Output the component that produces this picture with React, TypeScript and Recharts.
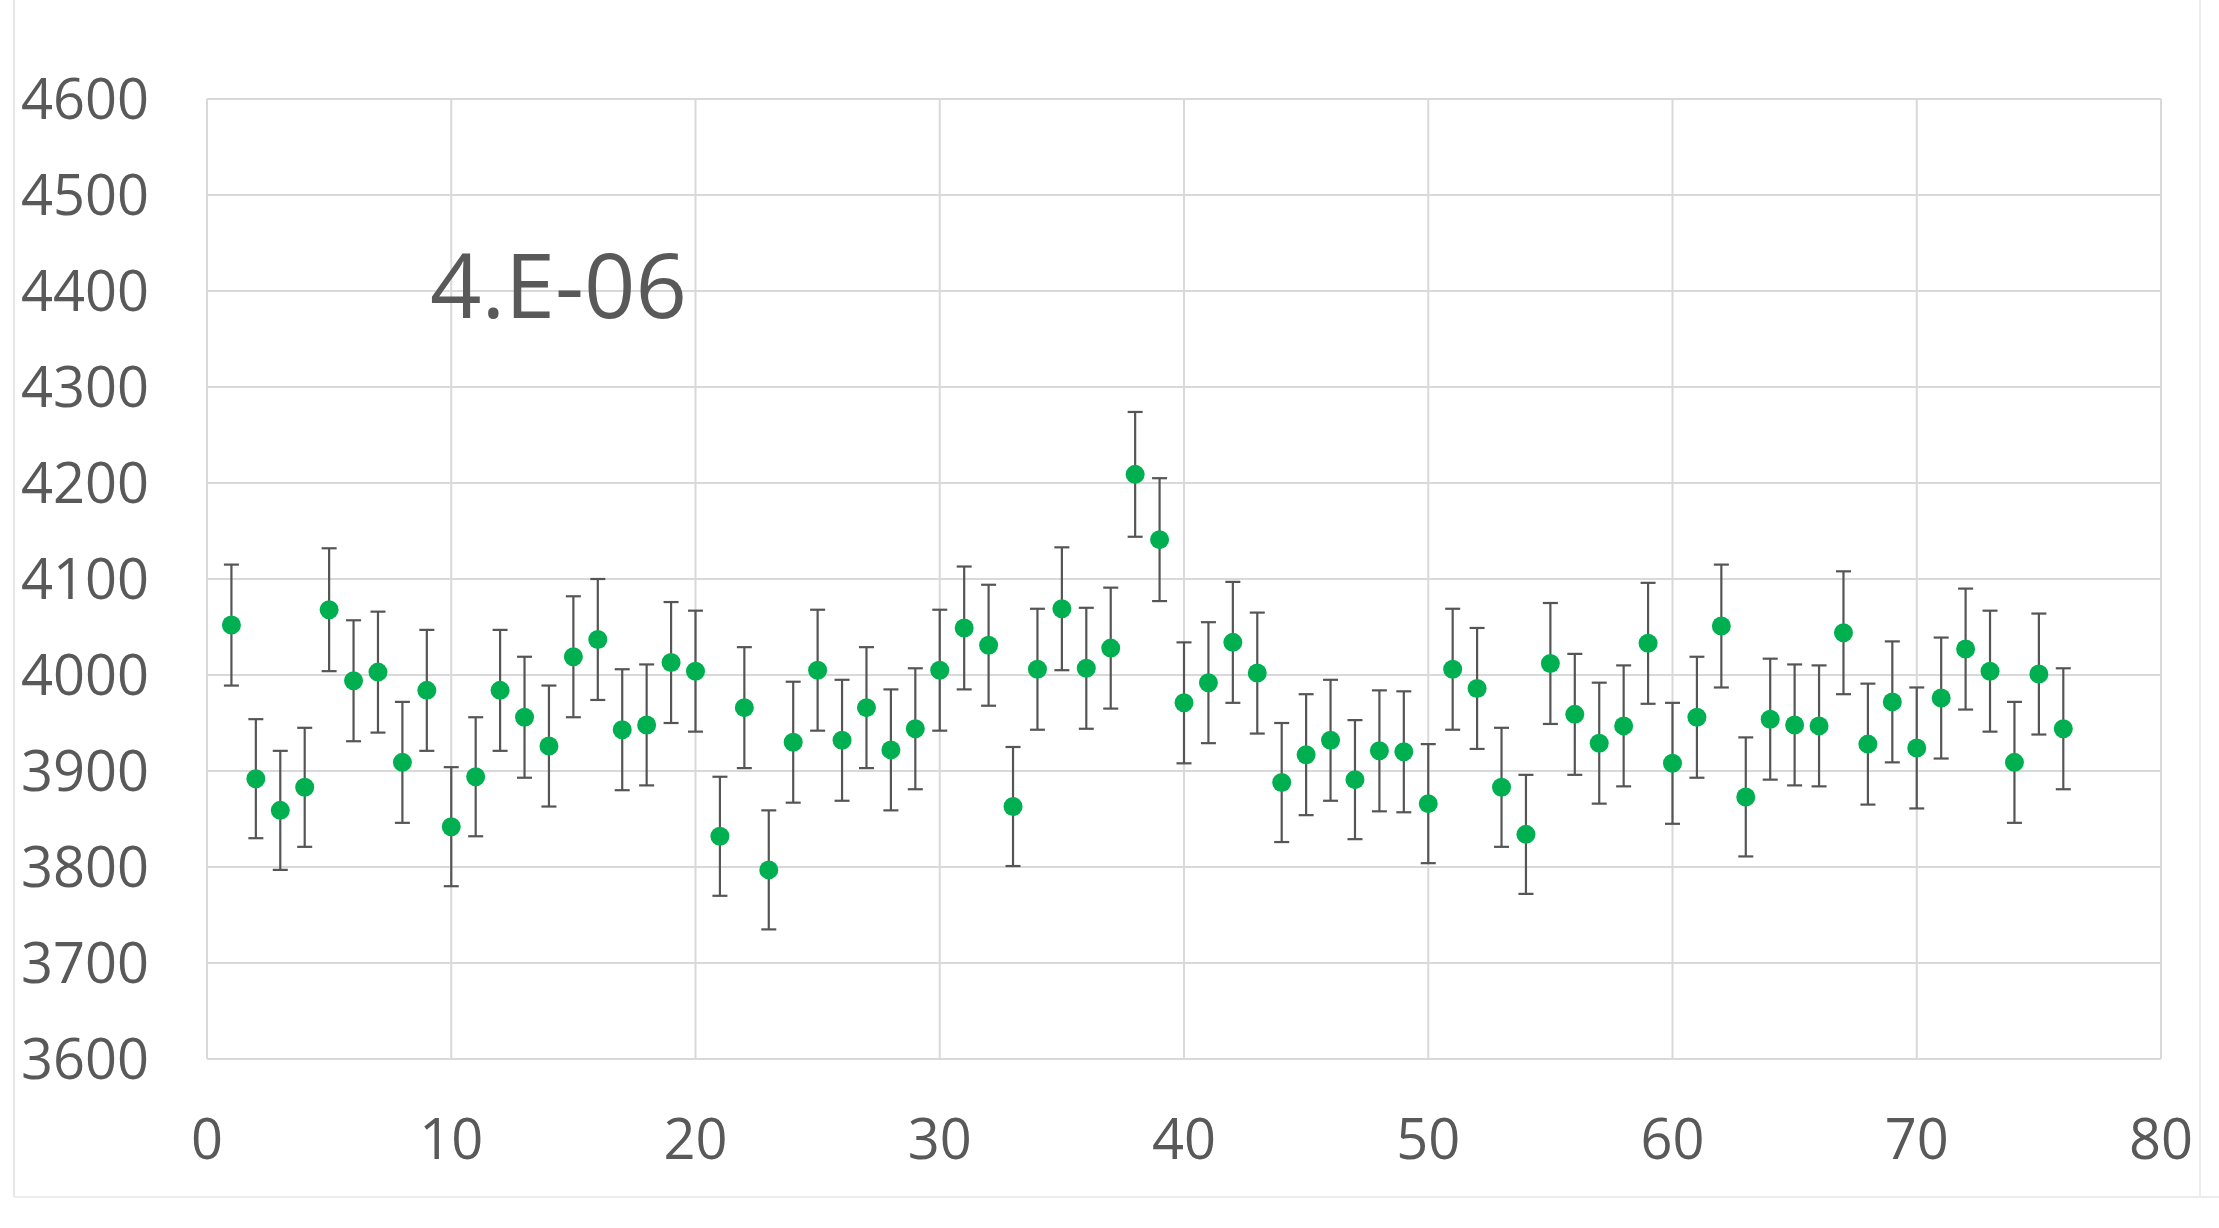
import { CartesianGrid, ErrorBar, Scatter, ScatterChart, XAxis, YAxis } from 'recharts'

// counts per run, with their symmetric error bars
const runCounts = [
  4052, 3892, 3859, 3883, 4068, 3994, 4003, 3909, 3984, 3842,
  3894, 3984, 3956, 3926, 4019, 4037, 3943, 3948, 4013, 4004,
  3832, 3966, 3797, 3930, 4005, 3932, 3966, 3922, 3944, 4005,
  4049, 4031, 3863, 4006, 4069, 4007, 4028, 4209, 4141, 3971,
  3992, 4034, 4002, 3888, 3917, 3932, 3891, 3921, 3920, 3866,
  4006, 3986, 3883, 3834, 4012, 3959, 3929, 3947, 4033, 3908,
  3956, 4051, 3873, 3954, 3948, 3947, 4044, 3928, 3972, 3924,
  3976, 4027, 4004, 3909, 4001, 3944,
]

const runErrors = [
  63, 62, 62, 62, 64, 63, 63, 63, 63, 62,
  62, 63, 63, 63, 63, 63, 63, 63, 63, 63,
  62, 63, 62, 63, 63, 63, 63, 63, 63, 63,
  64, 63, 62, 63, 64, 63, 63, 65, 64, 63,
  63, 63, 63, 62, 63, 63, 62, 63, 63, 62,
  63, 63, 62, 62, 63, 63, 63, 63, 63, 63,
  63, 64, 62, 63, 63, 63, 64, 63, 63, 63,
  63, 63, 63, 63, 63, 63,
]

const xTicks = [0, 10, 20, 30, 40, 50, 60, 70, 80]
const yTicks = [3600, 3700, 3800, 3900, 4000, 4100, 4200, 4300, 4400, 4500, 4600]
const annotation = '4.E-06'

const data = runCounts.map((count, i) => ({ run: i + 1, count, err: runErrors[i] }))

const FONT = '"Open Sans", "Noto Sans", sans-serif'
const TEXT = '#595959'
const GRID = '#d9d9d9'

const renderDot = (props: { cx?: number; cy?: number }) => (
  <circle cx={props.cx} cy={props.cy} r={9.5} fill="#00b050" />
)

export default function App() {
  return (
    <div style={{ position: 'relative', width: 2219, height: 1228, background: '#fff' }}>
      <style>{'body{margin:0;background:#fff}'}</style>
      <svg
        width={2219}
        height={1228}
        style={{ position: 'absolute', left: 0, top: 0 }}
        aria-hidden="true"
      >
        <line x1={14} y1={0} x2={14} y2={1197} stroke="#e6e6e6" strokeWidth={2} />
        <line x1={14} y1={1197} x2={2219} y2={1197} stroke="#ececec" strokeWidth={2} />
        <line x1={2200} y1={0} x2={2200} y2={1197} stroke="#ececec" strokeWidth={2} />
      </svg>
      <div style={{ position: 'absolute', left: 0, top: 0 }}>
        <ScatterChart
          width={2219}
          height={1228}
          margin={{ top: 99, right: 58, bottom: 69, left: 57 }}
        >
          <CartesianGrid stroke={GRID} strokeWidth={2} />
          <XAxis
            type="number"
            dataKey="run"
            domain={[0, 80]}
            ticks={xTicks}
            interval={0}
            axisLine={false}
            tickLine={false}
            tickSize={6}
            tickMargin={54}
            height={100}
            tick={{ fill: TEXT, fontSize: 56, fontFamily: FONT }}
          />
          <YAxis
            type="number"
            dataKey="count"
            domain={[3600, 4600]}
            ticks={yTicks}
            interval={0}
            allowDataOverflow
            axisLine={false}
            tickLine={false}
            tickSize={6}
            tickMargin={52}
            width={150}
            tick={{ fill: TEXT, fontSize: 56, fontFamily: FONT }}
          />
          <Scatter data={data} shape={renderDot} isAnimationActive={false}>
            <ErrorBar
              dataKey="err"
              direction="y"
              width={7.5}
              stroke="#555555"
              strokeWidth={2.2}
              isAnimationActive={false}
            />
          </Scatter>
        </ScatterChart>
      </div>
      <svg
        width={2219}
        height={1228}
        style={{ position: 'absolute', left: 0, top: 0, pointerEvents: 'none' }}
      >
        <text x={430} y={318} fill={TEXT} fontSize={90} fontFamily={FONT}>
          {annotation}
        </text>
      </svg>
    </div>
  )
}
